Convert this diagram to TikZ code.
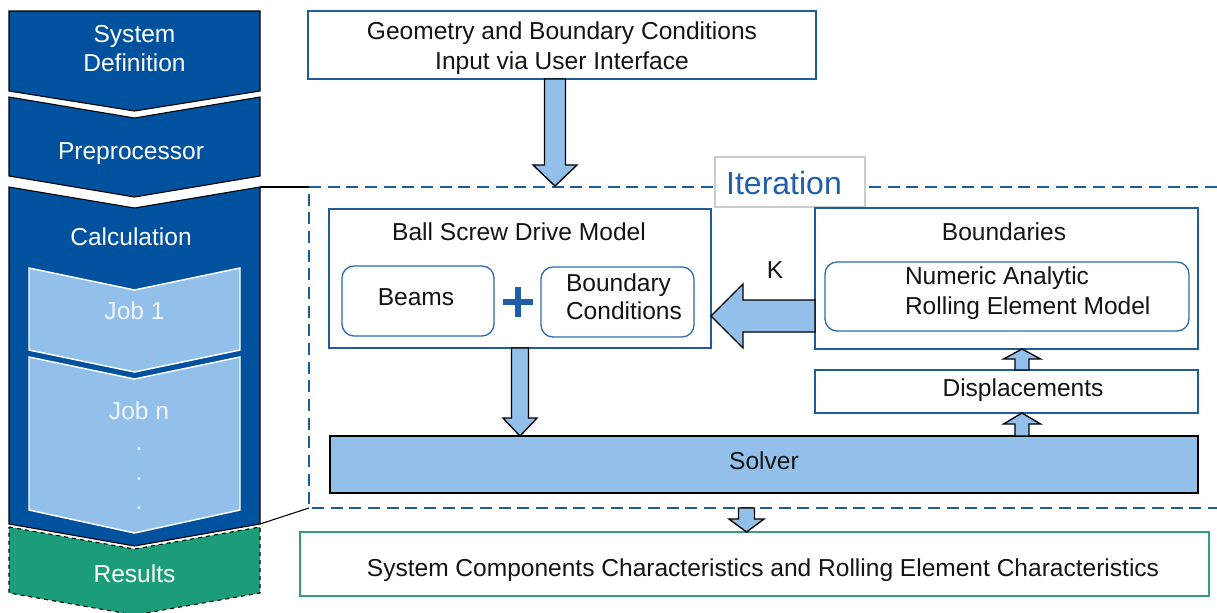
\documentclass[tikz,border=0pt]{standalone}
\usepackage{fontspec}
\setmainfont{Liberation Sans}
\usetikzlibrary{calc}

\definecolor{navy}{RGB}{0,81,158}
\definecolor{skyblue}{RGB}{146,192,235}
\definecolor{teal}{RGB}{26,157,120}
\definecolor{tealline}{RGB}{58,154,128}
\definecolor{boxblue}{RGB}{31,92,153}
\definecolor{roundblue}{RGB}{46,106,176}
\definecolor{itertext}{RGB}{31,95,170}
\definecolor{inktext}{RGB}{20,20,20}
\definecolor{jobtext}{RGB}{240,245,252}

\def\pxu{0.75pt}

% vertical block arrow: #1 x (px), #2 start, #3 tip, #4 shaft half width, #5 head half width, #6 signed head length
\newcommand\vblock[6]{%
  \filldraw[blockarrow] let \p1=(#2), \p2=(#3) in
    ({(#1-#4)*\pxu},\y1) -- ({(#1-#4)*\pxu},{\y2+(#6)*\pxu}) --
    ({(#1-#5)*\pxu},{\y2+(#6)*\pxu}) -- ({#1*\pxu},\y2) --
    ({(#1+#5)*\pxu},{\y2+(#6)*\pxu}) -- ({(#1+#4)*\pxu},{\y2+(#6)*\pxu}) --
    ({(#1+#4)*\pxu},\y1) -- cycle;}

% horizontal block arrow: #1 y (px), #2 start, #3 tip, #4 shaft half width, #5 head half width, #6 signed head length
\newcommand\hblock[6]{%
  \filldraw[blockarrow] let \p1=(#2), \p2=(#3) in
    (\x1,{-(#1-#4)*\pxu}) -- ({\x2+(#6)*\pxu},{-(#1-#4)*\pxu}) --
    ({\x2+(#6)*\pxu},{-(#1-#5)*\pxu}) -- (\x2,{-(#1)*\pxu}) --
    ({\x2+(#6)*\pxu},{-(#1+#5)*\pxu}) -- ({\x2+(#6)*\pxu},{-(#1+#4)*\pxu}) --
    (\x1,{-(#1+#4)*\pxu}) -- cycle;}

\begin{document}
\begin{tikzpicture}[x=0.75pt,y=-0.75pt,
  every node/.style={inner sep=0pt, outer sep=0pt, text=inktext,
    font=\fontsize{18.4}{22.5}\selectfont},
  plainbox/.style={draw=boxblue, line width=1.1pt, fill=white},
  softbox/.style={draw=roundblue, line width=1pt, fill=white, rounded corners=9pt},
  blockarrow/.style={fill=skyblue, draw=black, line width=1pt, line join=miter},
  phase/.style={fill=navy, draw=black, line width=0.8pt},
  jobstep/.style={fill=skyblue, draw=white, line width=1.1pt},
  coltext/.style={text=white},
  iterframe/.style={draw=boxblue, line width=1.3pt, dash pattern=on 9pt off 5pt}]

\useasboundingbox (0,0) rectangle (1217,612);

% ---------- process column ----------
\path[phase] (9,11) -- (260,11) -- (260,91) -- (134.5,111) -- (9,91) -- cycle;
\path[phase] (9,97) -- (134.5,118) -- (260,97) -- (260,176) -- (134.5,197) -- (9,176) -- cycle;
\path[phase] (9,187) -- (134.5,208) -- (260,187) -- (260,524) -- (134.5,546) -- (9,524) -- cycle;
\path[fill=teal, draw=black, line width=0.8pt, dashed]
  (9,527) -- (134.5,549) -- (260,527) -- (260,593) -- (134.5,615) -- (9,593) -- cycle;
\path[jobstep] (29,268) -- (134.5,290) -- (240,268) -- (240,350) -- (134.5,372) -- (29,350) -- cycle;
\path[jobstep] (29,357) -- (134.5,379) -- (240,357) -- (240,510) -- (134.5,533) -- (29,510) -- cycle;

\node[coltext, align=center, font=\fontsize{18.4}{21.75}\selectfont] (sysdef) at (134.5,49) {System\\Definition};
\node[coltext] (prep) at (131,154) {Preprocessor};
\node[coltext] (calc) at (131,237) {Calculation};
\node[text=jobtext] (job1) at (134.5,311) {Job 1};
\node[text=jobtext] (jobn) at (139,411) {Job n};
\node[text=jobtext, anchor=base] (dot1) at (139,450) {.};
\node[text=jobtext, anchor=base] (dot2) at (139,480) {.};
\node[text=jobtext, anchor=base] (dot3) at (139,509) {.};
\node[coltext] (res) at (134.5,574) {Results};

% ---------- iteration frame ----------
\coordinate (calctr) at (260,187);
\coordinate (calcbr) at (260,524);
\coordinate (itl) at (309,187);
\coordinate (ibl) at (309,508);
\draw[black, line width=0.8pt] (calctr) -- (itl);
\draw[black, line width=0.8pt] (calcbr) -- (ibl);
\draw[iterframe] (1217,187) -- (itl) -- (ibl) -- (1217,508);
\node[fill=white, draw=black!20, line width=0.8pt, minimum width=150*\pxu, minimum height=50*\pxu] (iterbox) at (790,182) {};
\node[text=itertext, font=\fontsize{24}{28}\selectfont] (itertxt) at (784,183) {Iteration};

% ---------- boxes ----------
\node[plainbox, minimum width=508*\pxu, minimum height=68*\pxu] (geo) at (562,45) {};
\node[align=center] (geotxt) at (562,48.5) {Geometry and Boundary Conditions\\Input via User Interface};

\node[plainbox, minimum width=382*\pxu, minimum height=139*\pxu] (bsdm) at (520,278.5) {};
\node (bsdmtxt) at (519,232) {Ball Screw Drive Model};
\node[softbox, minimum width=152*\pxu, minimum height=70*\pxu] (beams) at (418,301) {};
\node (beamstxt) at (416,297) {Beams};
\node[softbox, minimum width=153*\pxu, minimum height=70*\pxu] (bc) at (617.5,302) {};
\node[align=left, anchor=west, font=\fontsize{18.4}{21}\selectfont] (bctxt) at (566,297) {Boundary\\Conditions};
\draw[itertext, line width=4pt] (503,302) -- (533,302) (518,287) -- (518,317);

\node[plainbox, minimum width=383*\pxu, minimum height=141*\pxu] (bnd) at (1006.5,278.5) {};
\node (bndtxt) at (1004,231.5) {Boundaries};
\node[softbox, minimum width=364*\pxu, minimum height=69*\pxu] (narem) at (1007,296.5) {};
\node[align=left, anchor=west] (naremtxt) at (905,293) {Numeric Analytic\\Rolling Element Model};

\node[plainbox, minimum width=383*\pxu, minimum height=43*\pxu] (disp) at (1006.5,391.5) {};
\node (disptxt) at (1023,390.5) {Displacements};

\node[fill=skyblue, draw=black, line width=1.1pt, minimum width=868*\pxu, minimum height=57*\pxu] (solver) at (764,464.5) {};
\node (solvertxt) at (764,460.5) {Solver};

\node[draw=tealline, line width=1.1pt, fill=white, minimum width=909*\pxu, minimum height=64*\pxu] (out) at (754.5,564) {};
\node (outtxt) at (763,570.5) {System Components Characteristics and Rolling Element Characteristics};

\node (k) at (775,270.5) {K};

% ---------- block arrows ----------
\coordinate (geotip) at (555,186);
\coordinate (iterexit) at (746.5,508);
\vblock{555}{geo.south}{geotip}{10.5}{22}{21}
\vblock{520}{bsdm.south}{solver.north}{8.5}{17}{18}
\hblock{316}{bnd.west}{bsdm.east}{16}{32}{32}
\vblock{1022}{solver.north}{disp.south}{7}{18.5}{-11}
\vblock{1022}{disp.north}{bnd.south}{7}{18.5}{-10}
\vblock{746.5}{iterexit}{out.north}{8}{17.5}{13}

\end{tikzpicture}
\end{document}
